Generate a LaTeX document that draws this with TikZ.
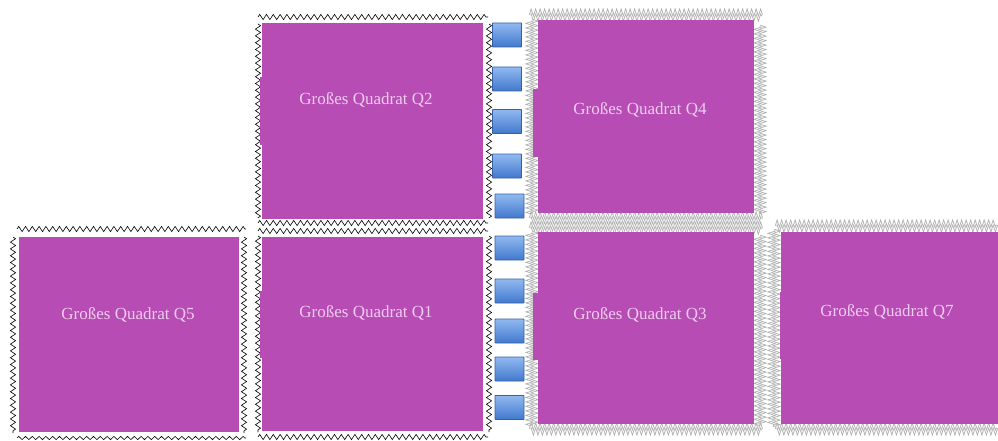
\documentclass[tikz,border=0pt]{standalone}
\usepackage{fontspec}
\setmainfont{Liberation Serif}
\usetikzlibrary{decorations.pathmorphing}
\definecolor{quadfill}{RGB}{184,76,181}
\definecolor{quadtext}{RGB}{238,205,238}
\definecolor{blueTop}{RGB}{145,185,240}
\definecolor{blueBot}{RGB}{65,120,205}
\definecolor{blueEdge}{RGB}{55,95,165}
\tikzset{
  quad/.style={fill=quadfill, draw=none, inner sep=0pt},
  lbl/.style={text=quadtext, font=\fontsize{17}{19}\selectfont},
  tab/.style={fill=quadfill, draw=none, inner sep=0pt},
  pad/.style={draw=blueEdge, line width=0.8pt, top color=blueTop, bottom color=blueBot,
    minimum width=29pt, minimum height=24pt, inner sep=0pt, rounded corners=0.5pt},
  bzig/.style={draw=black, line width=0.6pt, decorate,
    decoration={zigzag, segment length=6.8pt, amplitude=2.6pt}},
  bzigsmall/.style={draw=black, line width=0.6pt, decorate,
    decoration={zigzag, segment length=6.8pt, amplitude=1.6pt}},
  gzig/.style={draw=black!30, line width=0.9pt, double=white, double distance=0.5pt, decorate,
    decoration={zigzag, segment length=4.5pt, amplitude=3.5pt}},
}
\begin{document}
\begin{tikzpicture}[x=1pt,y=-1pt]
\useasboundingbox (0,0) rectangle (998,441);
% black zigzag frames
\draw[bzig] (258,17) -- (488,17);
\draw[bzig] (258,24) -- (258,218);
\draw[bzig] (489,24) -- (489,218);
\draw[bzig] (258,223) -- (488,223);
\draw[bzig] (258,231) -- (488,231);
\draw[bzig] (258,236) -- (258,432);
\draw[bzig] (489,236) -- (489,432);
\draw[bzig] (258,437) -- (488,437);
\draw[bzig] (17,229) -- (246,229);
\draw[bzig] (13,237) -- (13,433);
\draw[bzig] (244,237) -- (244,433);
\draw[bzigsmall] (17,438) -- (246,438);
% gray zigzag frames
\draw[gzig] (530,15) -- (762,15);
\draw[gzig] (532,20) -- (532,214);
\draw[gzig] (760,26) -- (760,214);
\draw[gzig] (530,218) -- (762,218);
\draw[gzig] (530,228) -- (762,228);
\draw[gzig] (532,232) -- (532,426);
\draw[gzig] (760,236) -- (760,426);
\draw[gzig] (530,429) -- (762,429);
\draw[gzig] (776,226) -- (998,226);
\draw[gzig] (774,230) -- (774,427);
\draw[gzig] (776,429) -- (998,429);
% tabs
\node[tab, minimum width=10pt, minimum height=67pt] (t2) at (265,111) {};
\node[tab, minimum width=10pt, minimum height=67pt] (t1) at (265,324) {};
\node[tab, minimum width=10pt, minimum height=67pt] (t4) at (538,123) {};
\node[tab, minimum width=10pt, minimum height=67pt] (t3) at (538,326) {};
\node[tab, minimum width=10pt, minimum height=67pt] (t7) at (785,325) {};
% squares
\node[quad, minimum width=221pt, minimum height=196pt] (q2) at (372.5,121) {};
\node[lbl] (l2) at (366,100) {Großes Quadrat Q2};
\node[quad, minimum width=221pt, minimum height=194pt] (q1) at (372.5,334) {};
\node[lbl] (l1) at (366,313) {Großes Quadrat Q1};
\node[quad, minimum width=220pt, minimum height=195pt] (q5) at (129,334.5) {};
\node[lbl] (l5) at (128,315) {Großes Quadrat Q5};
\node[quad, minimum width=216pt, minimum height=193pt] (q4) at (646,116.5) {};
\node[lbl] (l4) at (640,110) {Großes Quadrat Q4};
\node[quad, minimum width=216pt, minimum height=192pt] (q3) at (646,328) {};
\node[lbl] (l3) at (640,315) {Großes Quadrat Q3};
\node[quad, minimum width=217pt, minimum height=192pt] (q7) at (889.5,328) {};
\node[lbl] (l7) at (887,312) {Großes Quadrat Q7};
% blue pads
\node[pad] (p1) at (507,35) {};
\node[pad] (p2) at (507,79) {};
\node[pad] (p3) at (507,121.5) {};
\node[pad] (p4) at (507,166) {};
\node[pad] (p5) at (509.5,206) {};
\node[pad] (p6) at (509.5,248) {};
\node[pad] (p7) at (509.5,291) {};
\node[pad] (p8) at (509.5,331) {};
\node[pad] (p9) at (509.5,369) {};
\node[pad] (p10) at (509.5,407.5) {};
\end{tikzpicture}
\end{document}
